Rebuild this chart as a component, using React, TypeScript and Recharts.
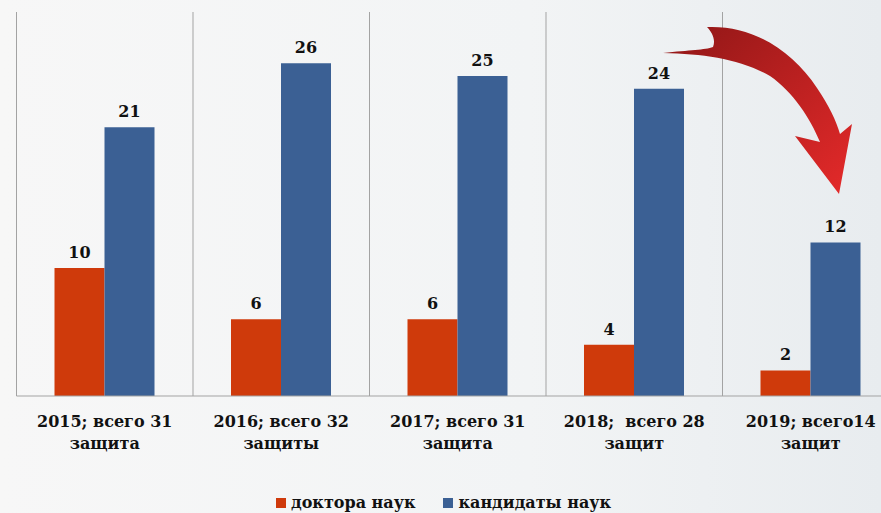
import { Bar, BarChart, CartesianGrid, Customized, LabelList, XAxis, YAxis } from 'recharts';

const yearLines = ['2015; всего 31', '2016; всего 32', '2017; всего 31', '2018;  всего 28', '2019; всего14'];
const defenseLines = ['защита', 'защиты', 'защита', 'защит', 'защит'];
const doctors = [10, 6, 6, 4, 2];
const candidates = [21, 26, 25, 24, 12];

const ORANGE = '#cf3a0b';
const BLUE = '#3b6094';
const FONT = '"DejaVu Serif", "Liberation Serif", serif';

const data = yearLines.map((y, i) => ({
  name: y,
  doctors: doctors[i],
  candidates: candidates[i],
}));

function YearTick(props: any) {
  const { x, y, payload, index } = props;
  return (
    <text x={x} y={y} textAnchor="middle" fontFamily={FONT} fontWeight="bold" fontSize={16} fill="#111">
      <tspan x={x} dy={23} style={{ whiteSpace: 'pre' }}>{payload.value}</tspan>
      <tspan x={x} dy={22}>{defenseLines[index]}</tspan>
    </text>
  );
}

function LegendBox() {
  const items = [
    { label: 'доктора наук', color: ORANGE },
    { label: 'кандидаты наук', color: BLUE },
  ];
  return (
    <div
      style={{
        position: 'absolute', left: 276, top: 493, display: 'flex', gap: 28,
        fontFamily: FONT, fontWeight: 'bold', fontSize: 16, color: '#111', lineHeight: '20px',
      }}
    >
      {items.map((it) => (
        <span key={it.label} style={{ display: 'flex', alignItems: 'center' }}>
          <i style={{ width: 10, height: 10, background: it.color, marginRight: 5, display: 'inline-block' }} />
          {it.label}
        </span>
      ))}
    </div>
  );
}

function Arrow() {
  const d =
    'M663 53 C690 50 705 50 713 47 C716 40 712 32 707 27 ' +
    'C752 25 792 50 817 88 C829 106 836 120 840 134 L852 124 L839 194 L795 136 L820 142 ' +
    'C810 118 793 92 770 76 C740 59 705 54 663 53 Z';
  return (
    <g>
      <defs>
        <linearGradient id="arrowGrad" x1="0" y1="0" x2="1" y2="1">
          <stop offset="0%" stopColor="#8e1616" />
          <stop offset="100%" stopColor="#e52a2a" />
        </linearGradient>
      </defs>
      <path d={d} fill="url(#arrowGrad)" />
    </g>
  );
}

export default function App() {
  return (
    <div
      style={{
        position: 'relative',
        width: 881,
        height: 513,
        overflow: 'hidden',
        background: 'linear-gradient(90deg, #f7f7f7 0%, #f2f4f5 60%, #e8ecef 100%)',
      }}
    >
      <style>{'body{margin:0}'}</style>
      <BarChart
        width={900}
        height={513}
        data={data}
        margin={{ top: 12, right: 1, left: 16.5, bottom: 47 }}
        barGap={0}
        barSize={50}
      >
        <CartesianGrid
          horizontal={false}
          stroke="#a3a3a3"
          verticalCoordinatesGenerator={({ offset }: any) =>
            [0, 1, 2, 3, 4, 5].map((i) => offset.left + (i * offset.width) / 5)
          }
        />
        <XAxis
          dataKey="name"
          height={70}
          interval={0}
          tickLine={false}
          axisLine={{ stroke: '#a3a3a3' }}
          tick={<YearTick />}
        />
        <YAxis hide domain={[0, 30]} />
        <Bar dataKey="doctors" fill={ORANGE} isAnimationActive={false}>
          <LabelList dataKey="doctors" position="top" offset={10} fontFamily={FONT} fontWeight="bold" fontSize={16} fill="#111" />
        </Bar>
        <Bar dataKey="candidates" fill={BLUE} isAnimationActive={false}>
          <LabelList dataKey="candidates" position="top" offset={10} fontFamily={FONT} fontWeight="bold" fontSize={16} fill="#111" />
        </Bar>
        <Customized component={Arrow} />
      </BarChart>
      <LegendBox />
    </div>
  );
}
